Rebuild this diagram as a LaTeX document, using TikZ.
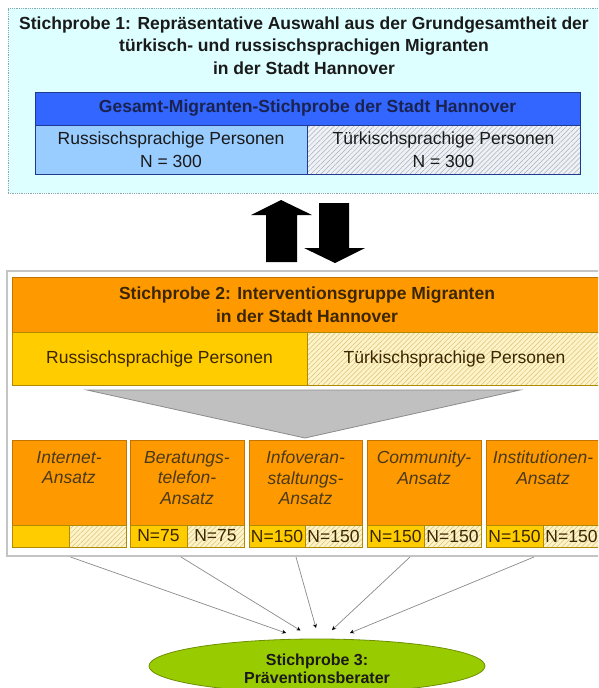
\documentclass[tikz,border=0pt]{standalone}
\usepackage{fontspec}
\setmainfont{Liberation Sans}
\usetikzlibrary{shapes.geometric,patterns.meta,arrows.meta}
\definecolor{topbg}{HTML}{DDFFFF}
\definecolor{topline}{HTML}{8FA8B0}
\definecolor{hdrblue}{HTML}{3366FF}
\definecolor{hdrline}{HTML}{1F3A8F}
\definecolor{lightblue}{HTML}{99CCFF}
\definecolor{hatchbg}{HTML}{EEF2F6}
\definecolor{hatchln}{HTML}{A8B0B8}
\definecolor{orng}{HTML}{FF9900}
\definecolor{orngline}{HTML}{C27400}
\definecolor{yell}{HTML}{FFCC00}
\definecolor{yellline}{HTML}{B08A00}
\definecolor{paleyell}{HTML}{FFF4C8}
\definecolor{yellhatch}{HTML}{D8C27A}
\definecolor{outerline}{HTML}{C4C4C4}
\definecolor{trifill}{HTML}{C0C0C0}
\definecolor{triline}{HTML}{8C8C8C}
\definecolor{grn}{HTML}{99CC00}
\definecolor{grnline}{HTML}{6E8F00}
\definecolor{darktext}{HTML}{1A1A1A}
\definecolor{navytext}{HTML}{1A2350}
\definecolor{browntext}{HTML}{3B2600}
\definecolor{boxtext}{HTML}{4A3A1A}
\definecolor{connline}{HTML}{8A8A8A}
\begin{document}
\begin{tikzpicture}[x=1pt,y=-1pt,line width=0.8pt,
  every node/.style={inner sep=0pt,outer sep=0pt},
  bt/.style={font=\fontsize{17.5}{22.5}\selectfont\bfseries,align=center},
  rt/.style={font=\fontsize{17.5}{23}\selectfont,align=center},
  itx/.style={font=\fontsize{17.5}{20.5}\selectfont\itshape,align=center,text=boxtext},
  nt/.style={font=\fontsize{17.5}{20}\selectfont,text=browntext},
  cellbox/.style={anchor=north west,rectangle},
  hatchblue/.style={cellbox,draw=hdrline,preaction={fill=hatchbg},pattern={Lines[angle=45,distance=3.5pt,line width=0.5pt]},pattern color=hatchln},
  hatchyell/.style={cellbox,draw=yellline,preaction={fill=paleyell},pattern={Lines[angle=45,distance=3.5pt,line width=0.5pt]},pattern color=yellhatch},
  abox/.style={cellbox,draw=orngline,fill=orng,minimum width=114,minimum height=85},
  ncell/.style={cellbox,draw=yellline,fill=yell,minimum width=57,minimum height=22,nt},
  ncellh/.style={hatchyell,minimum width=57,minimum height=22,nt},
  conn/.style={draw=connline,line width=0.7pt,-{Stealth[length=4pt,width=4pt,color=black]}}
]
\useasboundingbox (0,0) rectangle (598,688);
\clip (0,0) rectangle (598,688);
\fill[white] (0,0) rectangle (598,688);

% Stichprobe 1
\node[cellbox,draw=topline,densely dotted,fill=topbg,minimum width=602,minimum height=185] (s1box) at (8,8) {};
\node[bt,text=darktext] (t1) at (304,45.5) {Stichprobe 1: Repräsentative Auswahl aus der Grundgesamtheit der\\türkisch- und russischsprachigen Migranten\\in der Stadt Hannover};
\node[cellbox,draw=hdrline,fill=hdrblue,minimum width=545,minimum height=33,bt,text=navytext] (h1) at (35,92) {Gesamt-Migranten-Stichprobe der Stadt Hannover};
\node[cellbox,draw=hdrline,fill=lightblue,minimum width=272,minimum height=49,rt,text=darktext] (r1) at (35,125) {Russischsprachige Personen\\N = 300};
\node[hatchblue,minimum width=273,minimum height=49,rt,text=darktext] (r2) at (307,125) {Türkischsprachige Personen\\N = 300};

% block arrows
\fill[black] (281,200) -- (312,215) -- (297,215) -- (297,262) -- (266,262) -- (266,215) -- (251,215) -- cycle;
\fill[black] (319,203) -- (349,203) -- (349,248) -- (365,248) -- (335,263) -- (304,248) -- (319,248) -- cycle;

% Stichprobe 2
\node[cellbox,draw=outerline,line width=1.6pt,fill=white,minimum width=603,minimum height=285] (s2box) at (7,271) {};
\node[cellbox,draw=orngline,fill=orng,minimum width=590,minimum height=55,bt,text=browntext] (h2) at (12,277) {Stichprobe 2: Interventionsgruppe Migranten\\in der Stadt Hannover};
\node[cellbox,draw=yellline,fill=yell,minimum width=295,minimum height=53,rt,text=browntext] (y1) at (12,332) {Russischsprachige Personen};
\node[hatchyell,minimum width=295,minimum height=53,rt,text=browntext] (y2) at (307,332) {Türkischsprachige Personen};
\fill[trifill,draw=triline] (87,390) -- (520,390) -- (305,438) -- cycle;

% approach boxes
\node[abox] (b1) at (12,440) {};
\node[abox] (b2) at (130,440) {};
\node[abox,minimum width=113] (b3) at (249,440) {};
\node[abox] (b4) at (367,440) {};
\node[abox] (b5) at (486,440) {};
\node[itx,anchor=north] (b1t) at (b1.north) [yshift=-11pt] {Internet-\\Ansatz};
\node[itx,anchor=north] (b2t) at (b2.north) [yshift=-11pt] {Beratungs-\\telefon-\\Ansatz};
\node[itx,anchor=north] (b3t) at (b3.north) [yshift=-11pt] {Infoveran-\\staltungs-\\Ansatz};
\node[itx,anchor=north] (b4t) at (b4.north) [yshift=-11pt] {Community-\\Ansatz};
\node[itx,anchor=north] (b5t) at (b5.north) [yshift=-11pt] {Institutionen-\\Ansatz};

\node[ncell] (n1a) at (12,525) {};
\node[ncellh] (n1b) at (69,525) {};
\node[ncell] (n2a) at (130,525) {N=75};
\node[ncellh] (n2b) at (187,525) {N=75};
\node[ncell,minimum width=56] (n3a) at (249,525) {N=150};
\node[ncellh] (n3b) at (305,525) {N=150};
\node[ncell] (n4a) at (367,525) {N=150};
\node[ncellh] (n4b) at (424,525) {N=150};
\node[ncell] (n5a) at (486,525) {N=150};
\node[ncellh] (n5b) at (543,525) {N=150};

% Stichprobe 3
\node[ellipse,draw=grnline,fill=grn,minimum width=336,minimum height=54] (ell) at (317,666) {};
\node[font=\fontsize{16}{18}\selectfont\bfseries,align=center,text=darktext] (ellt) at (317,669) {Stichprobe 3:\\Präventionsberater};

% connectors
\coordinate (s1) at (70.5,557); \coordinate (e1) at (286,633);
\coordinate (s2) at (181,557);  \coordinate (e2) at (300.5,630.5);
\coordinate (s3) at (296,557);  \coordinate (e3) at (316,628);
\coordinate (s4) at (410,557);  \coordinate (e4) at (332,630);
\coordinate (s5) at (534,557);  \coordinate (e5) at (350,633);
\foreach \i in {1,...,5} { \draw[conn] (s\i) -- (e\i); }
\end{tikzpicture}
\end{document}
